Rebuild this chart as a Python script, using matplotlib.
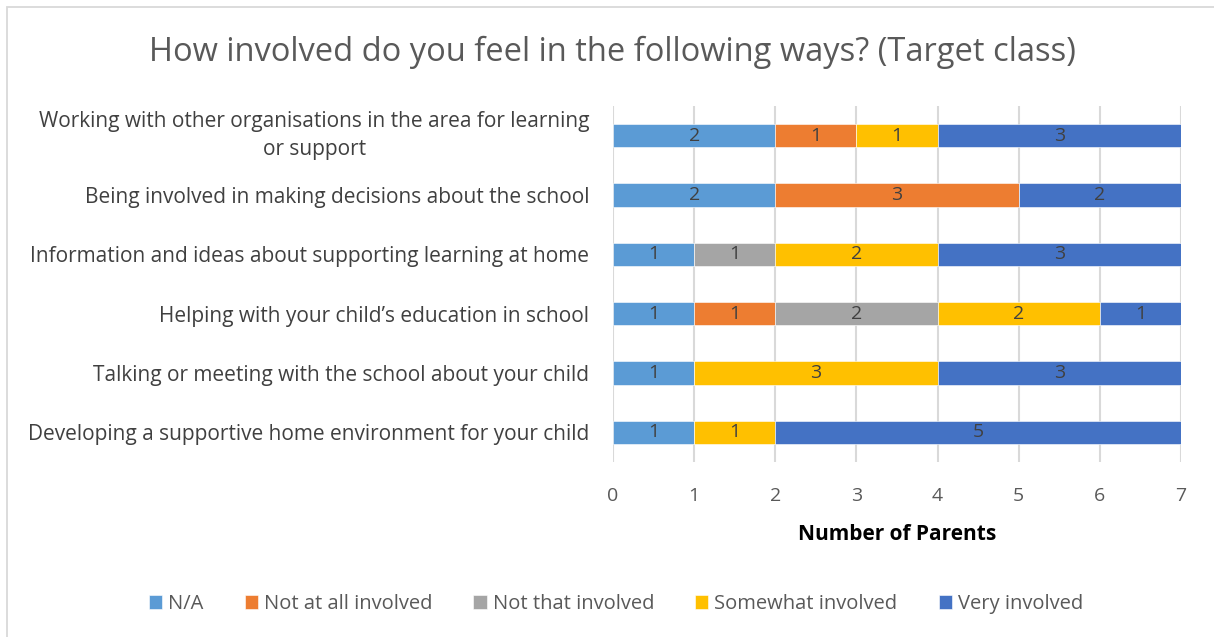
import matplotlib
matplotlib.use("Agg")
import matplotlib.pyplot as plt
from matplotlib.patches import Rectangle
import numpy as np

plt.rcParams['font.family'] = ['Open Sans', 'DejaVu Sans']

categories = [
    "Working with other organisations in the area for learning\nor support",
    "Being involved in making decisions about the school",
    "Information and ideas about supporting learning at home",
    "Helping with your child\u2019s education in school",
    "Talking or meeting with the school about your child",
    "Developing a supportive home environment for your child",
]
series_names = ["N/A", "Not at all involved", "Not that involved", "Somewhat involved", "Very involved"]
na_vals = [2, 2, 1, 1, 1, 1]
not_at_all_vals = [1, 3, 0, 1, 0, 0]
not_that_vals = [0, 0, 1, 2, 0, 0]
somewhat_vals = [1, 0, 2, 2, 3, 1]
very_vals = [3, 2, 3, 1, 3, 5]
values = [na_vals, not_at_all_vals, not_that_vals, somewhat_vals, very_vals]
colors = ["#5B9BD5", "#ED7D31", "#A5A5A5", "#FFC000", "#4472C4"]
xticks = [0, 1, 2, 3, 4, 5, 6, 7]

W, H = 1214, 637
fig = plt.figure(figsize=(W / 100, H / 100), dpi=100)
fig.patches.append(Rectangle((7 / W, -0.1), 1.2, (1 - 7 / H) + 0.1, transform=fig.transFigure,
                             fill=False, edgecolor="#D9D9D9", linewidth=1.3))

ax = fig.add_axes([613 / W, 1 - 462 / H, (1181 - 613) / W, (462 - 106) / H])
y = np.arange(len(categories))
left = np.zeros(len(categories))
for name, vals, c in zip(series_names, values, colors):
    vals = np.array(vals, dtype=float)
    ax.barh(y, vals, left=left, height=0.39, color=c, label=name,
            edgecolor="white", linewidth=0.4, zorder=3)
    for yi, v, l in zip(y, vals, left):
        if v > 0:
            ax.text(l + v / 2, yi, f"{int(v)}", ha="center", va="center",
                    fontsize=14, color="#404040", zorder=4)
    left += vals

ax.set_ylim(len(categories) - 0.5, -0.5)
ax.set_xlim(0, 7)
ax.set_xticks(xticks)
ax.set_xticklabels([str(t) for t in xticks], fontsize=14, color="#595959")
ax.set_yticks(y)
ylabels = ax.set_yticklabels(categories, fontsize=15, color="#404040", multialignment="center",
                             linespacing=1.45)
for lab in ylabels:
    if "\n" in lab.get_text():
        lab.set_va("center")
ax.tick_params(axis="both", length=0)
ax.tick_params(axis="x", pad=18)
ax.tick_params(axis="y", pad=17)
ax.grid(axis="x", color="#D9D9D9", linewidth=1.5, zorder=0)
ax.set_axisbelow(True)
for s in ax.spines.values():
    s.set_visible(False)

ax.set_xlabel("Number of Parents", fontsize=15, fontweight="bold", color="black", labelpad=14)

fig.text(612 / W, 1 - 52 / H, "How involved do you feel in the following ways? (Target class)",
         ha="center", va="center", fontsize=23.5, color="#595959")

handles, labels = ax.get_legend_handles_labels()
fig.legend(handles, labels, loc="center", bbox_to_anchor=(616 / W, 1 - 604 / H), ncol=5,
           frameon=False, fontsize=14.5, labelcolor="#595959", handlelength=0.65, handleheight=0.65,
           handletextpad=0.3, columnspacing=2.05)

fig.savefig("out.png", dpi=100)
